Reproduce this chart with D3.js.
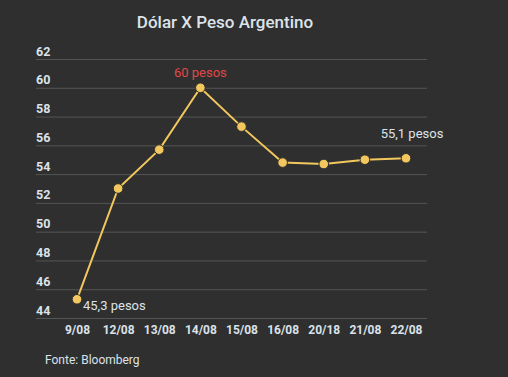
<!DOCTYPE html>
<html><head><meta charset="utf-8">
<script src="https://cdn.jsdelivr.net/npm/d3@7"></script>
<style>
html,body{margin:0;padding:0;background:#2f2f2f;}
svg{display:block;font-family:Roboto,"Noto Sans",sans-serif;}
</style></head><body>
<svg id="c" width="508" height="377"></svg>
<script>
const categories = ["9/08","12/08","13/08","14/08","15/08","16/08","20/18","21/08","22/08"];
const values = [45.3, 53.0, 55.7, 60.0, 57.3, 54.8, 54.7, 55.0, 55.1];
const yTicks = [44,46,48,50,52,54,56,58,60,62];
const annotations = [
  {i:0, text:"45,3 pesos"},
  {i:3, text:"60 pesos"},
  {i:8, text:"55,1 pesos"}
];

const svg = d3.select("#c");
svg.append("rect").attr("width",508).attr("height",377).attr("fill","#2f2f2f");

const x = d3.scalePoint().domain(categories).range([77,406]);
const y = d3.scaleLinear().domain([44,62]).range([318,59]);

svg.append("text").attr("x",225).attr("y",28).attr("text-anchor","middle")
  .attr("fill","#dde3ea").attr("font-size",17).attr("font-weight",500)
  .text("Dólar X Peso Argentino");

// grid
const yAxis = d3.axisLeft(y).tickValues(yTicks).tickSize(-391).tickFormat(d3.format("d"));
const gy = svg.append("g").attr("transform","translate(36,0)").call(yAxis);
gy.select(".domain").remove();
gy.selectAll(".tick line").attr("stroke","#555").attr("stroke-width",1);
gy.selectAll(".tick text").attr("x",0).attr("dy","-4").attr("text-anchor","start")
  .attr("fill","#dbe2ea").attr("font-size",12.5).attr("font-weight",700)
  .attr("font-family","Roboto,sans-serif");

const xAxis = d3.axisBottom(x).tickSize(0).tickPadding(0);
const gx = svg.append("g").attr("transform","translate(0,334)").call(xAxis);
gx.select(".domain").remove();
gx.selectAll(".tick text").attr("dy","0").attr("fill","#dbe2ea").attr("font-size",12)
  .attr("font-weight",700).attr("font-family","Roboto,sans-serif");

const line = d3.line().x((d,i)=>x(categories[i])).y(d=>y(d));
svg.append("path").datum(values).attr("d",line).attr("fill","none")
  .attr("stroke","#f2c85e").attr("stroke-width",2);

svg.selectAll("circle.p").data(values).enter().append("circle").attr("class","p")
  .attr("cx",(d,i)=>x(categories[i])).attr("cy",d=>y(d)).attr("r",4.8)
  .attr("fill","#f2c85e").attr("stroke","#2f2f2f").attr("stroke-width",1);

// annotations
const a0 = annotations[0], a1 = annotations[1], a2 = annotations[2];
svg.append("text").attr("x",x(categories[a0.i])+6).attr("y",y(values[a0.i])+11)
  .attr("fill","#dde3ea").attr("font-size",13).text(a0.text);
svg.append("text").attr("x",x(categories[a1.i])).attr("y",y(values[a1.i])-11)
  .attr("text-anchor","middle").attr("fill","#e04848").attr("font-size",13).text(a1.text);
svg.append("text").attr("x",x(categories[a2.i])+6).attr("y",y(values[a2.i])-20)
  .attr("text-anchor","middle").attr("fill","#dde3ea").attr("font-size",13).text(a2.text);

svg.append("text").attr("x",45).attr("y",364).attr("fill","#dde3ea")
  .attr("font-size",12).text("Fonte: Bloomberg");
</script>
</body></html>
